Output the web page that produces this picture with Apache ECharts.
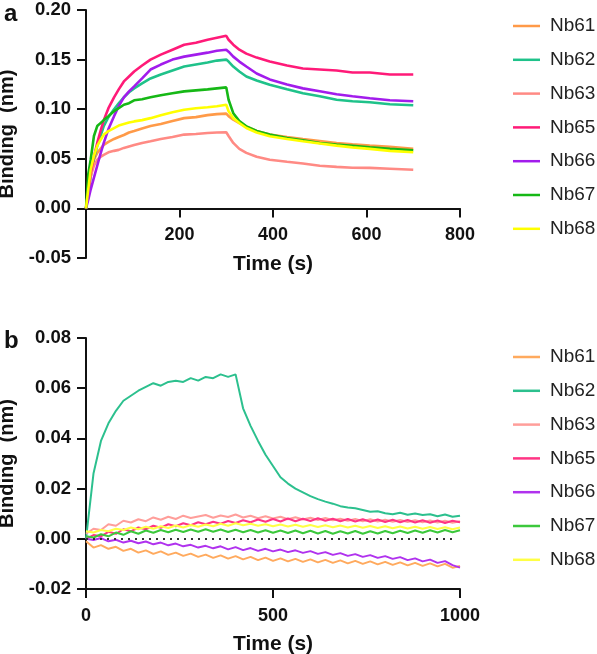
<!DOCTYPE html>
<html>
<head>
<meta charset="utf-8">
<script src="https://cdn.jsdelivr.net/npm/echarts@6/dist/echarts.min.js"></script>
<style>
html,body{margin:0;padding:0;background:#fff;}
#a{position:absolute;left:0;top:0;width:597px;height:320px;}
#b{position:absolute;left:0;top:320px;width:597px;height:334px;}
</style>
</head>
<body>
<div id="a"></div>
<div id="b"></div>
<script>
// ---------- Panel a ----------
const namesA = ['Nb61','Nb62','Nb63','Nb65','Nb66','Nb67','Nb68'];
const colorsA = ['#ff9a48','#1fc28a','#ff8a84','#ff1a78','#a21cec','#16b816','#ffff00'];
const timeA = [0,5,10,17,24,31,38,48,60,70,81,92,103,120,138,160,185,210,235,260,280,300,305,315,328,343,365,393,430,464,500,536,570,607,650,700];
const nb61A = [0,0.018,0.036,0.049,0.056,0.060,0.064,0.067,0.070,0.072,0.074,0.0765,0.078,0.0805,0.083,0.085,0.088,0.091,0.092,0.094,0.095,0.0955,0.093,0.0894,0.086,0.0827,0.078,0.0744,0.072,0.070,0.068,0.066,0.0645,0.0633,0.062,0.060];
const nb62A = [0,0.016,0.032,0.050,0.063,0.073,0.083,0.092,0.100,0.106,0.112,0.117,0.121,0.126,0.131,0.135,0.139,0.143,0.145,0.147,0.149,0.150,0.148,0.143,0.138,0.133,0.129,0.1246,0.120,0.116,0.113,0.1095,0.108,0.107,0.105,0.104];
const nb63A = [0,0.017,0.032,0.043,0.049,0.052,0.054,0.0565,0.058,0.059,0.061,0.0625,0.064,0.066,0.0677,0.070,0.072,0.0744,0.075,0.076,0.0765,0.0767,0.073,0.066,0.060,0.056,0.052,0.049,0.047,0.0452,0.043,0.0419,0.041,0.0409,0.040,0.039];
const nb65A = [0,0.018,0.036,0.052,0.066,0.078,0.089,0.101,0.112,0.120,0.128,0.133,0.138,0.144,0.150,0.155,0.160,0.165,0.167,0.170,0.172,0.174,0.170,0.165,0.160,0.156,0.152,0.148,0.144,0.141,0.140,0.139,0.137,0.137,0.135,0.135];
const nb66A = [0,0.009,0.019,0.031,0.043,0.055,0.066,0.080,0.093,0.103,0.112,0.118,0.123,0.131,0.140,0.145,0.150,0.153,0.155,0.157,0.159,0.160,0.158,0.153,0.148,0.143,0.136,0.130,0.125,0.121,0.118,0.115,0.113,0.111,0.109,0.108];
const nb67A = [0,0.035,0.049,0.073,0.083,0.086,0.089,0.093,0.098,0.101,0.1045,0.106,0.109,0.110,0.112,0.114,0.116,0.118,0.119,0.120,0.121,0.122,0.1095,0.096,0.088,0.0827,0.078,0.0744,0.071,0.0687,0.066,0.0643,0.063,0.0616,0.060,0.0586];
const nb68A = [0,0.020,0.039,0.053,0.063,0.069,0.0744,0.078,0.081,0.0835,0.085,0.0865,0.0877,0.089,0.091,0.094,0.097,0.0995,0.101,0.102,0.103,0.1045,0.098,0.091,0.086,0.081,0.0765,0.0727,0.070,0.0677,0.0655,0.0633,0.0615,0.060,0.058,0.0566];
const valuesA = [nb61A,nb62A,nb63A,nb65A,nb66A,nb67A,nb68A];
const yTicksA = [-0.05,0.2,0.05];
const xTicksA = [0,800,200];

// ---------- Panel b ----------
const namesB = ['Nb61','Nb62','Nb63','Nb65','Nb66','Nb67','Nb68'];
const colorsB = ['#ffaa5e','#2cc08e','#ff9e9a','#ff3584','#b032ee','#3cc83c','#ffff44'];
const timeB = [0,20,40,60,80,100,120,140,160,180,200,220,240,260,280,300,320,340,360,380,400,420,440,460,480,500,520,540,560,580,600,620,640,660,680,700,720,740,760,780,800,820,840,860,880,900,920,940,960,980,1000];
const nb61B = [-0.001,-0.0035,-0.0025,-0.004,-0.0032,-0.0048,-0.004,-0.0055,-0.0046,-0.006,-0.005,-0.0064,-0.0055,-0.0068,-0.0059,-0.0072,-0.0063,-0.0076,-0.0066,-0.0079,-0.0069,-0.0082,-0.0072,-0.0085,-0.0075,-0.0088,-0.0078,-0.009,-0.008,-0.0092,-0.0082,-0.0094,-0.0084,-0.0096,-0.0086,-0.0098,-0.0088,-0.01,-0.009,-0.0102,-0.0092,-0.0104,-0.0094,-0.0106,-0.0096,-0.0108,-0.0098,-0.011,-0.01,-0.0115,-0.0108];
const nb62B = [0,0.026,0.039,0.046,0.051,0.055,0.057,0.059,0.0605,0.062,0.061,0.0625,0.063,0.0625,0.064,0.063,0.0645,0.064,0.0655,0.0645,0.0655,0.052,0.045,0.039,0.0335,0.029,0.0245,0.022,0.020,0.0185,0.017,0.0158,0.0148,0.014,0.013,0.0125,0.0122,0.0115,0.0108,0.011,0.0102,0.0098,0.0104,0.0096,0.0101,0.0095,0.0098,0.009,0.0097,0.0088,0.0092];
const nb63B = [0.002,0.004,0.0035,0.0058,0.0052,0.0072,0.0065,0.0078,0.007,0.0085,0.0076,0.0088,0.0079,0.0092,0.0083,0.0089,0.0095,0.0084,0.0093,0.0087,0.0097,0.0085,0.0092,0.0082,0.009,0.0081,0.0088,0.0078,0.0086,0.0077,0.0084,0.0075,0.0083,0.0074,0.008,0.0072,0.0079,0.007,0.0078,0.0069,0.0076,0.0068,0.0075,0.0067,0.0074,0.0066,0.0073,0.0065,0.0072,0.0064,0.007];
const nb65B = [0,0.0015,0.001,0.0028,0.002,0.0038,0.003,0.0045,0.0038,0.0052,0.0044,0.0058,0.005,0.0062,0.0054,0.0066,0.0058,0.0068,0.006,0.0071,0.0063,0.0074,0.0066,0.0077,0.0068,0.0079,0.0069,0.0081,0.007,0.008,0.0071,0.0082,0.0072,0.008,0.007,0.0079,0.0069,0.0078,0.0068,0.0077,0.0067,0.0076,0.0066,0.0075,0.0065,0.0074,0.0064,0.0073,0.0063,0.0072,0.0066];
const nb66B = [0,-0.0005,0.0003,-0.001,-0.0004,-0.0015,-0.0008,-0.0018,-0.0011,-0.0022,-0.0015,-0.0026,-0.0019,-0.003,-0.0024,-0.0035,-0.0028,-0.0038,-0.003,-0.0042,-0.0033,-0.0045,-0.0037,-0.0048,-0.004,-0.005,-0.0043,-0.0053,-0.0046,-0.0056,-0.0049,-0.006,-0.0053,-0.0064,-0.0057,-0.0068,-0.0061,-0.0072,-0.0065,-0.0076,-0.0069,-0.008,-0.0073,-0.0085,-0.0078,-0.009,-0.0083,-0.0096,-0.0089,-0.0105,-0.0115];
const nb67B = [0.001,0.0005,0.0018,0.001,0.0025,0.0016,0.003,0.002,0.0033,0.0024,0.0035,0.0026,0.0036,0.0027,0.0037,0.0028,0.0038,0.0028,0.0037,0.0027,0.0036,0.0026,0.0035,0.0025,0.0034,0.0024,0.0033,0.0023,0.0033,0.0022,0.0032,0.0021,0.0031,0.002,0.003,0.0021,0.0031,0.002,0.003,0.0021,0.0031,0.0022,0.0032,0.0023,0.0033,0.0024,0.0034,0.0025,0.0035,0.0026,0.0034];
const nb68B = [0.003,0.0025,0.0035,0.003,0.004,0.0035,0.0045,0.0038,0.0048,0.004,0.005,0.0043,0.0053,0.0045,0.0055,0.0048,0.0057,0.005,0.006,0.0052,0.0062,0.0054,0.006,0.0052,0.0058,0.005,0.0057,0.0049,0.0056,0.0048,0.0055,0.0047,0.0054,0.0046,0.0053,0.0045,0.0052,0.0044,0.0051,0.0043,0.005,0.0042,0.0049,0.0041,0.0048,0.004,0.0047,0.0039,0.0046,0.0038,0.0045];
const valuesB = [nb61B,nb62B,nb63B,nb65B,nb66B,nb67B,nb68B];
const yTicksB = [-0.02,0.08,0.02];
const xTicksB = [0,1000,500];

const FONT = 'Liberation Sans, Arial, sans-serif';
const AXC = '#111';

function buildOption(opt){
  const yMin = opt.yTicks[0], yMax = opt.yTicks[1];
  // grid 0 holds data + y axis; grid 1 holds the visible x axis (at y = 0 for panel a)
  const xGridH = opt.xAtZero ? opt.gridH * (yMax - 0) / (yMax - yMin) : opt.gridH;
  const grids = [
    {left:86, top:opt.gridTop, width:374, height:opt.gridH, outerBoundsMode:'none', containLabel:false},
    {left:86, top:opt.gridTop, width:374, height:xGridH, outerBoundsMode:'none', containLabel:false}
  ];
  const series = opt.names.map((n,i)=>({
    name:n, type:'line', symbol:'none', showSymbol:false,
    xAxisIndex:0, yAxisIndex:0,
    data: opt.time.map((t,k)=>[t, opt.values[i][k]]),
    lineStyle:{width:opt.lw, color:opt.colors[i]},
    itemStyle:{color:opt.colors[i]},
    animation:false, z:2
  }));
  if (opt.zeroLine) {
    series[0].markLine = {
      silent:true, symbol:['none','none'], label:{show:false},
      lineStyle:{type:[2,5], color:'#333', width:1.8},
      data:[[{coord:[0,0]},{coord:[985,0]}]]
    };
  }
  return {
    animation:false,
    backgroundColor:'#fff',
    title:{text:opt.letter, left:-1, top:opt.letterTop, textStyle:{fontFamily:FONT,fontWeight:'bold',fontSize:24,color:'#111'}},
    grid:grids,
    legend:{
      orient:'vertical', left:508, top:opt.legendTop,
      itemWidth:27, itemHeight:20, itemGap:13.8,
      icon:'path://M0,9 L27,9 L27,11.5 L0,11.5 Z',
      textStyle:{fontFamily:FONT, fontSize:19, color:'#222', padding:[0,0,0,5], lineHeight:20},
      data:opt.names
    },
    xAxis:[
      {gridIndex:0, type:'value', min:opt.xTicks[0], max:opt.xTicks[1], interval:opt.xTicks[2], show:false},
      {
        gridIndex:1, type:'value', min:opt.xTicks[0], max:opt.xTicks[1], interval:opt.xTicks[2],
        position:'bottom',
        axisLine:{onZero:false, lineStyle:{color:AXC, width:2}},
        axisTick:{show:true, length:9, lineStyle:{color:AXC, width:2}},
        splitLine:{show:false},
        axisLabel:{fontFamily:FONT, fontWeight:'bold', fontSize:18, color:'#111', margin:18,
          formatter:v=> (opt.hideZeroX && v===0) ? '' : String(v)},
        name:'Time (s)', nameLocation:'middle', nameGap:45,
        nameTextStyle:{fontFamily:FONT, fontWeight:'bold', fontSize:21, color:'#111'}
      }
    ],
    yAxis:[
      {
        gridIndex:0, type:'value', min:yMin, max:yMax, interval:opt.yTicks[2],
        axisLine:{show:true, onZero:false, lineStyle:{color:AXC, width:2}},
        axisTick:{show:true, length:9, lineStyle:{color:AXC, width:2}},
        splitLine:{show:false},
        axisLabel:{fontFamily:FONT, fontWeight:'bold', fontSize:18.5, color:'#111', margin:15,
          formatter:v=>v.toFixed(2)},
        name:'Binding  (nm)', nameLocation:'middle', nameGap:58, nameRotate:90,
        nameTextStyle:{fontFamily:FONT, fontWeight:'bold', fontSize:20, color:'#111'}
      },
      {gridIndex:1, type:'value', min:0, max:yMax, show:false}
    ],
    series
  };
}

const chartA = echarts.init(document.getElementById('a'), null, {renderer:'canvas'});
chartA.setOption(buildOption({
  names:namesA, colors:colorsA, time:timeA, values:valuesA, lw:2.6,
  yTicks:yTicksA, xTicks:xTicksA, gridTop:10, gridH:248, legendTop:11,
  letter:'a', letterTop:-3, xAtZero:true, hideZeroX:true, zeroLine:false
}));

const chartB = echarts.init(document.getElementById('b'), null, {renderer:'canvas'});
chartB.setOption(buildOption({
  names:namesB, colors:colorsB, time:timeB, values:valuesB, lw:2,
  yTicks:yTicksB, xTicks:xTicksB, gridTop:18, gridH:251, legendTop:22,
  letter:'b', letterTop:4, xAtZero:false, hideZeroX:false, zeroLine:true
}));
</script>
</body>
</html>
